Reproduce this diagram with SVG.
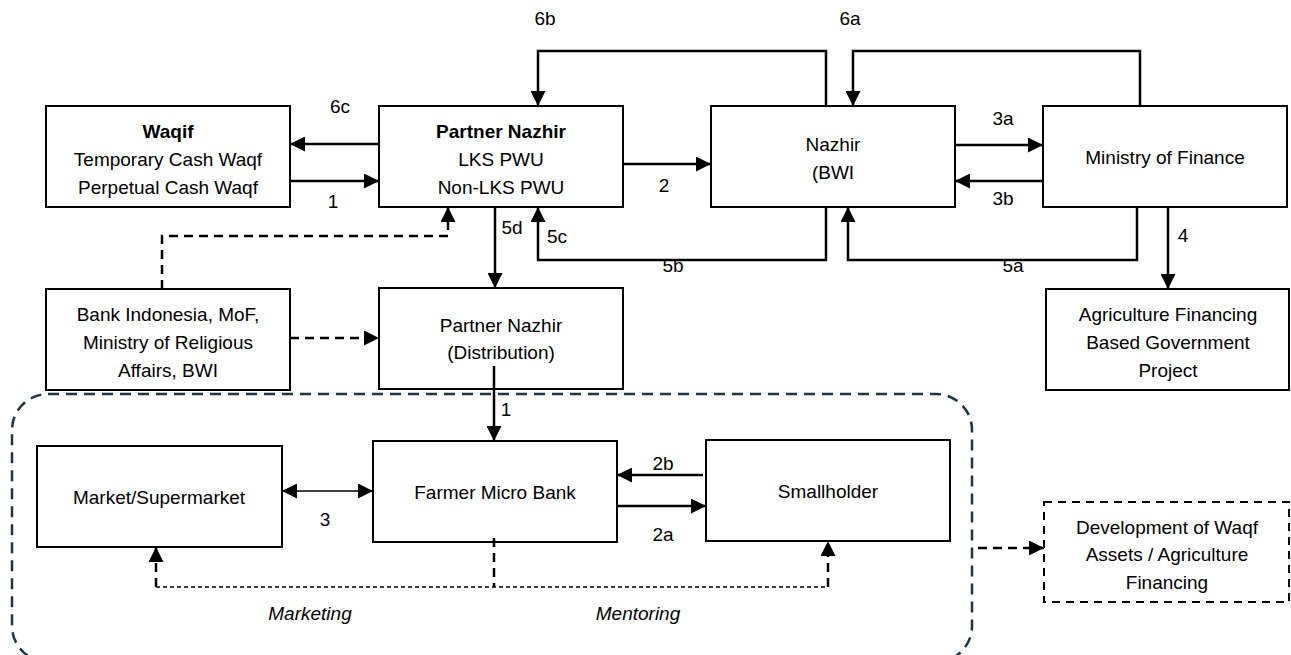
<svg xmlns="http://www.w3.org/2000/svg" width="1291" height="655" viewBox="0 0 1291 655">
<style>
.box{fill:#fff;stroke:#000;stroke-width:2}
.dbox{fill:#fff;stroke:#000;stroke-width:2;stroke-dasharray:8 6}
text{font-family:"Liberation Sans",Arial,sans-serif;font-size:19px;fill:#000;text-anchor:middle;dominant-baseline:central}
.b{font-weight:bold}
.i{font-style:italic}
.c{fill:none;stroke:#000;stroke-width:2.5}
.d{fill:none;stroke:#000;stroke-width:2.5;stroke-dasharray:9 6}
.t{fill:none;stroke:#000;stroke-width:1.3;stroke-dasharray:4 3}
.g{fill:none;stroke:#1c3547;stroke-width:2.5;stroke-dasharray:11 7}
</style>
<defs>
<marker id="ah" markerUnits="userSpaceOnUse" markerWidth="15" markerHeight="15" refX="15" refY="7.5" orient="auto">
<path d="M0,0 L15,7.5 L0,15 z" fill="#000"/>
</marker>
<marker id="as" markerUnits="userSpaceOnUse" markerWidth="15" markerHeight="15" refX="0" refY="7.5" orient="auto">
<path d="M15,0 L0,7.5 L15,15 z" fill="#000"/>
</marker>
</defs>
<rect id="group" class="g" x="12" y="394" width="960" height="268" rx="36"/>
<g id="waqif"><rect class="box" x="46" y="106" width="244" height="101"/>
<text class="b" x="168" y="131">Waqif</text><text x="168" y="159">Temporary Cash Waqf</text><text x="168" y="187">Perpetual Cash Waqf</text></g>
<g id="partner"><rect class="box" x="379" y="106" width="244" height="101"/>
<text class="b" x="501" y="131">Partner Nazhir</text><text x="501" y="159">LKS PWU</text><text x="501" y="187">Non-LKS PWU</text></g>
<g id="nazhir"><rect class="box" x="711" y="106" width="244" height="101"/>
<text x="833" y="144">Nazhir</text><text x="833" y="172">(BWI</text></g>
<g id="mof"><rect class="box" x="1043" y="106" width="244" height="101"/>
<text x="1165" y="157">Ministry of Finance</text></g>
<g id="bank"><rect class="box" x="46" y="289" width="244" height="101"/>
<text x="168" y="314">Bank Indonesia, MoF,</text><text x="168" y="342">Ministry of Religious</text><text x="168" y="370">Affairs, BWI</text></g>
<g id="distribution"><rect class="box" x="379" y="288" width="244" height="101"/>
<text x="501" y="325">Partner Nazhir</text><text x="501" y="352">(Distribution)</text></g>
<g id="agri"><rect class="box" x="1046" y="289" width="243" height="101"/>
<text x="1168" y="314">Agriculture Financing</text><text x="1168" y="342">Based Government</text><text x="1168" y="370">Project</text></g>
<g id="market"><rect class="box" x="37" y="446" width="245" height="101"/>
<text x="159" y="497">Market/Supermarket</text></g>
<g id="farmer"><rect class="box" x="373" y="441" width="244" height="101"/>
<text x="495" y="492">Farmer Micro Bank</text></g>
<g id="smallholder"><rect class="box" x="706" y="440" width="244" height="101"/>
<text x="828" y="491">Smallholder</text></g>
<g id="development"><rect class="dbox" x="1044" y="502" width="245" height="100"/>
<text x="1167" y="527">Development of Waqf</text><text x="1167" y="554">Assets / Agriculture</text><text x="1167" y="582">Financing</text></g>
<g id="connectors">
<path class="c" d="M379,144 L290,144" marker-end="url(#ah)"/>
<path class="c" d="M290,181 L379,181" marker-end="url(#ah)"/>
<path class="c" d="M623,164 L711,164" marker-end="url(#ah)"/>
<path class="c" d="M955,145 L1043,145" marker-end="url(#ah)"/>
<path class="c" d="M1043,181 L955,181" marker-end="url(#ah)"/>
<path class="c" d="M826,106 L826,51 L538,51 L538,106" marker-end="url(#ah)"/>
<path class="c" d="M1140,106 L1140,51 L853,51 L853,106" marker-end="url(#ah)"/>
<path class="c" d="M826,207 L826,260 L538,260 L538,207" marker-end="url(#ah)"/>
<path class="c" d="M1137,207 L1137,260 L848,260 L848,207" marker-end="url(#ah)"/>
<path class="c" d="M1168,207 L1168,289" marker-end="url(#ah)"/>
<path class="c" d="M495,207 L495,288" marker-end="url(#ah)"/>
<path class="d" d="M162,289 L162,236 L448,236 L448,207" marker-end="url(#ah)"/>
<path class="d" d="M290,338 L379,338" marker-end="url(#ah)"/>
<path class="c" d="M494,366 L494,441" marker-end="url(#ah)"/>
<path d="M282,491 L373,491" fill="none" stroke="#000" stroke-width="1.5" marker-start="url(#as)" marker-end="url(#ah)"/>
<path class="c" d="M703,475 L617,475" marker-end="url(#ah)"/>
<path class="c" d="M617,506 L706,506" marker-end="url(#ah)"/>
<path class="d" d="M494,538 L494,587"/>
<path class="t" d="M156,587 L828,587"/>
<path class="d" d="M156,587 L156,547" marker-end="url(#ah)"/>
<path class="d" d="M828,587 L828,541" marker-end="url(#ah)"/>
<path class="d" d="M978,548 L1044,548" marker-end="url(#ah)"/>
</g>
<g id="labels">
<text x="340" y="106">6c</text>
<text x="333" y="201">1</text>
<text x="664" y="185">2</text>
<text x="1003" y="118">3a</text>
<text x="1003" y="198">3b</text>
<text x="545" y="18">6b</text>
<text x="850" y="18">6a</text>
<text x="512" y="227">5d</text>
<text x="557" y="236">5c</text>
<text x="673" y="265">5b</text>
<text x="1013" y="265">5a</text>
<text x="1183" y="235">4</text>
<text x="506" y="409">1</text>
<text x="325" y="519">3</text>
<text x="663" y="463">2b</text>
<text x="663" y="534">2a</text>
<text class="i" x="310" y="613">Marketing</text>
<text class="i" x="638" y="613">Mentoring</text>
</g>
</svg>
